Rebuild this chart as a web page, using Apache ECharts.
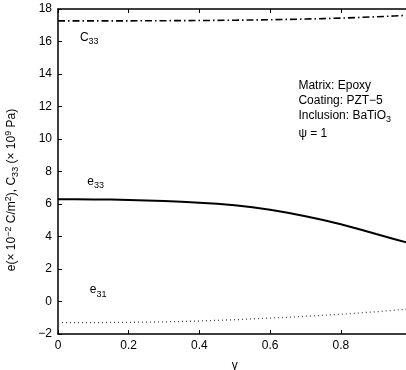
<!DOCTYPE html>
<html><head><meta charset="utf-8">
<script src="https://cdn.jsdelivr.net/npm/echarts@6/dist/echarts.min.js"></script>
<style>html,body{margin:0;padding:0;background:#fff}#c{width:406px;height:370px}</style>
</head><body><div id="c"></div>
<script>
var gamma = [0, 0.05, 0.1, 0.15, 0.2, 0.25, 0.3, 0.35, 0.4, 0.45, 0.5, 0.55, 0.6, 0.65, 0.7, 0.75, 0.8, 0.85, 0.9, 0.95, 1.0];
var c33 = [17.27, 17.27, 17.27, 17.27, 17.27, 17.275, 17.28, 17.285, 17.29, 17.30, 17.31, 17.325, 17.34, 17.36, 17.38, 17.41, 17.44, 17.48, 17.52, 17.57, 17.62];
var e33 = [6.29, 6.29, 6.28, 6.27, 6.25, 6.22, 6.19, 6.14, 6.08, 6.01, 5.92, 5.80, 5.65, 5.46, 5.25, 5.01, 4.75, 4.46, 4.15, 3.85, 3.55];
var e31 = [-1.30, -1.30, -1.30, -1.29, -1.28, -1.27, -1.25, -1.23, -1.20, -1.16, -1.12, -1.07, -1.02, -0.97, -0.91, -0.85, -0.78, -0.71, -0.63, -0.54, -0.45];
var yTicks = [-2, 0, 2, 4, 6, 8, 10, 12, 14, 16, 18];
var xTicks = [0, 0.2, 0.4, 0.6, 0.8];

function pairs(ys){ return gamma.map(function(g,i){return [g, ys[i]];}); }
var FONT = 'Liberation Sans, Arial, sans-serif';
var chart = echarts.init(document.getElementById('c'), null, {renderer:'canvas'});
function line(){ return {show:true, onZero:false, lineStyle:{color:'#000', width:1.5}}; }
function tick(){ return {show:true, inside:true, length:4, lineStyle:{color:'#000', width:1}}; }
chart.setOption({
  animation:false,
  backgroundColor:'#fff',
  grid:{left:58, top:9, width:353.5, height:325, outerBoundsMode:'none'},
  xAxis:[{
    type:'value', min:0, max:1, interval:0.2,
    axisLine:line(), axisTick:tick(),
    axisLabel:{color:'#000', fontFamily:FONT, fontSize:12, margin:6, showMaxLabel:false,
      formatter:function(v){var r=Math.round(v*10)/10; return xTicks.indexOf(r)>=0 ? String(r) : '';}},
    splitLine:{show:false},
    name:'γ', nameLocation:'middle', nameGap:26, nameTextStyle:{color:'#000', fontFamily:FONT, fontSize:12}
  },{
    type:'value', min:0, max:1, interval:0.2, position:'top',
    axisLine:line(), axisTick:tick(),
    axisLabel:{show:true, formatter:function(){return '';}}, splitLine:{show:false}
  }],
  yAxis:{
    type:'value', min:-2, max:18, interval:2,
    axisLine:line(), axisTick:tick(),
    axisLabel:{color:'#000', fontFamily:FONT, fontSize:12, margin:6,
      formatter:function(v){return yTicks.indexOf(v)>=0 ? String(v).replace('-', '\u2212') : '';}},
    splitLine:{show:false}
  },
  series:[
    {type:'line', name:'C33', data:pairs(c33), symbol:'none',
      lineStyle:{color:'#000', width:1.6, type:[7,3,1.5,3]}},
    {type:'line', name:'e33', data:pairs(e33), symbol:'none',
      lineStyle:{color:'#000', width:2}},
    {type:'line', name:'e31', data:pairs(e31), symbol:'none',
      lineStyle:{color:'#444', width:1.3, type:[1,3]}}
  ]
});

var rich = {
  b:{fontFamily:FONT, fontSize:12, color:'#000'},
  sub:{fontFamily:FONT, fontSize:9, color:'#000', padding:[8,0,0,0]},
  sup:{fontFamily:FONT, fontSize:9, color:'#000', padding:[0,0,7,0]}
};
function txt(pos, str, align){
  var p = chart.convertToPixel({gridIndex:0}, pos);
  return {type:'text', x:p[0], y:p[1], style:{text:str, rich:rich, fontFamily:FONT, fontSize:12, fill:'#000', align:align||'left', verticalAlign:'middle'}};
}
var ylabel = '{b|e(× 10}{sup|−2}{b| C/m}{sup|2}{b|), C}{sub|33}{b| (× 10}{sup|9}{b| Pa)}';
chart.setOption({graphic:[
  txt([0.062, 16.25], '{b|C}{sub|33}'),
  txt([0.083, 7.4], '{b|e}{sub|33}'),
  txt([0.09, 0.7], '{b|e}{sub|31}'),
  txt([0.68, 13.3], '{b|Matrix: Epoxy}'),
  txt([0.68, 12.38], '{b|Coating: PZT\u22125}'),
  txt([0.68, 11.46], '{b|Inclusion: BaTiO}{sub|3}'),
  txt([0.68, 10.3], '{b|ψ = 1}'),
  {type:'text', x:12, y:190, rotation:Math.PI/2,
    style:{text:ylabel, rich:rich, align:'center', verticalAlign:'middle', fontFamily:FONT, fontSize:12, fill:'#000'}}
]});
</script></body></html>
